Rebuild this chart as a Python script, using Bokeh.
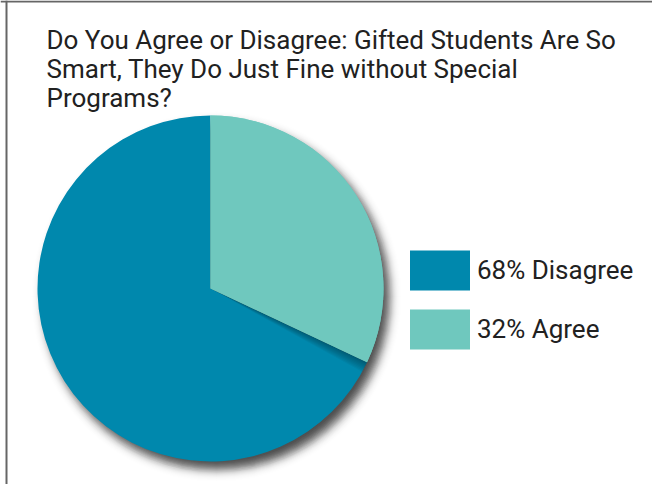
import numpy as np
from math import pi, erf, sqrt
from bokeh.plotting import figure
from bokeh.models import ColumnDataSource, Range1d, Label, Span
from bokeh.embed import file_html
from bokeh.resources import INLINE

# ---- data ----
title_lines = [
    "Do You Agree or Disagree: Gifted Students Are So",
    "Smart, They Do Just Fine without Special",
    "Programs?",
]
labels = ["68% Disagree", "32% Agree"]
values = [68, 32]
colors = ["#0088AD", "#6FC8BE"]

# ---- layout (canvas pixels; data units == pixels) ----
W, H = 652, 484
CX, CY, R = 210, 196, 173

p = figure(width=W, height=H, output_backend="svg", toolbar_location=None,
           x_range=Range1d(0, W), y_range=Range1d(0, H), min_border=0,
           x_axis_location=None, y_axis_location=None)
p.grid.visible = False
p.outline_line_color = None
p.background_fill_color = "white"
p.border_fill_color = "white"

# chart border (left and top edges; right/bottom fall outside the view)
p.add_layout(Span(location=6, dimension="height", line_color="#666666", line_width=2))
p.add_layout(Span(location=H - 1, dimension="width", line_color="#666666", line_width=2))

# ---- drop shadow (stack of translucent circles) ----
A, s = 0.68, 5.0
ts = np.arange(-12, 20)
S = np.array([A * 0.5 * (1 - erf(t / (s * sqrt(2)))) for t in ts])
T = 1 - S
T_next = np.append(T[1:], 1.0)
alphas = 1 - T / T_next
p.circle(x=[CX + 6] * len(ts), y=[CY - 8] * len(ts), radius=list(R + ts + 0.5),
         fill_color="black", fill_alpha=list(alphas), line_color=None)

# ---- pie ----
frac = np.array(values, dtype=float) / sum(values)
cum = np.concatenate([[0.0], np.cumsum(frac)])
starts = pi / 2 + 2 * pi * cum[:-1]
ends = pi / 2 + 2 * pi * cum[1:]
src = ColumnDataSource(dict(label=labels, start=starts, end=ends, color=colors))
r_pie = p.wedge(x=CX, y=CY, radius=R, start_angle="start", end_angle="end",
                fill_color="color", line_color=None, legend_field="label", source=src)

# shadow cast by the second slice onto the first, along their shared edge
boundary = ends[0]
deltas = np.radians(np.arange(1, 9) * 0.45)
p.wedge(x=CX, y=CY, radius=R, start_angle=list(boundary - deltas),
        end_angle=[boundary] * len(deltas), fill_color="black", fill_alpha=0.045,
        line_color=None)
# redraw second slice on top of that shadow
src2 = ColumnDataSource(dict(start=starts[1:], end=ends[1:], color=colors[1:]))
p.wedge(x=CX, y=CY, radius=R, start_angle="start", end_angle="end",
        fill_color="color", line_color=None, source=src2)

lg = p.legend[0]
lg.location = (402, 130)
lg.glyph_width = 75
lg.glyph_height = 50
lg.spacing = 9
lg.padding = 0
lg.margin = 0
lg.label_standoff = 0
lg.border_line_color = None
lg.background_fill_alpha = 0
lg.label_text_font = "Roboto"
lg.label_text_font_size = "26px"
lg.label_text_color = "#212121"

# ---- title ----
for i, line in enumerate(title_lines):
    p.add_layout(Label(x=46, y=445 - 29 * i, text=line, text_font="Roboto",
                       text_font_size="26px", text_color="#212121",
                       text_align="left", text_baseline="alphabetic"))

open("out.html", "w").write(file_html(p, INLINE))
